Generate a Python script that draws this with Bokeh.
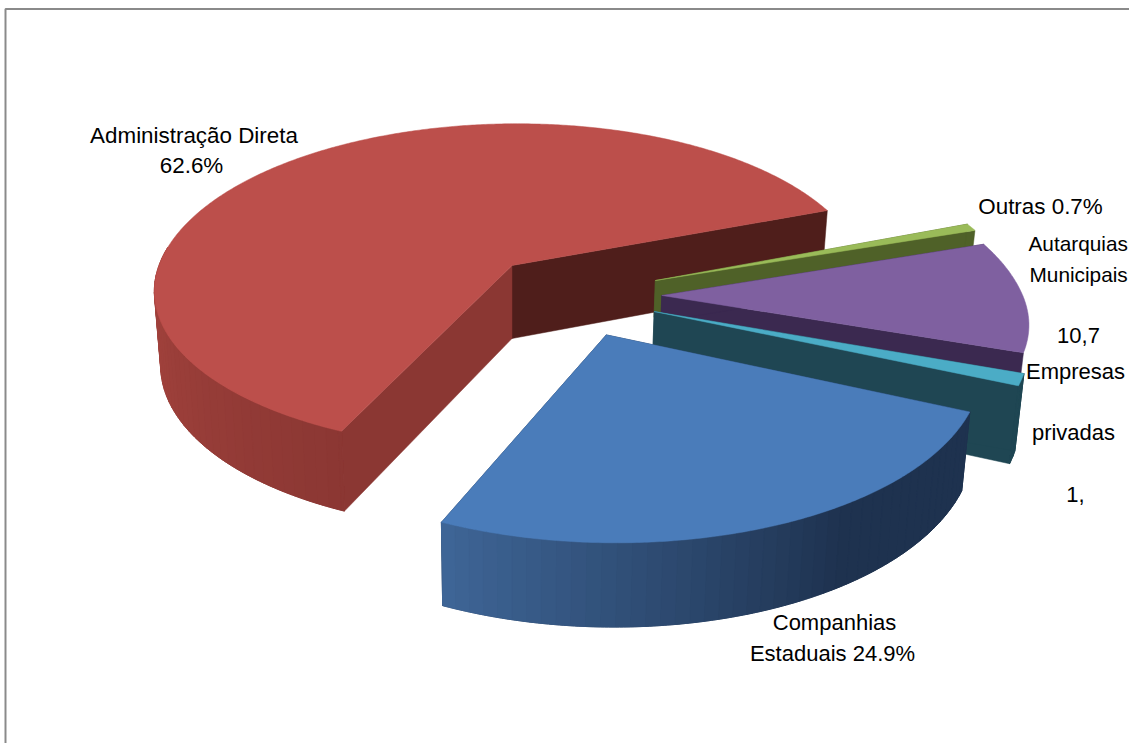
from math import cos, sin, radians
from bokeh.embed import file_html
from bokeh.models import Range1d
from bokeh.plotting import figure
from bokeh.resources import INLINE
from bokeh.core.properties import value

# Shares of each operator type, in drawing order (clockwise from the dark edge of the first slice)
categories = ["Administração Direta", "Outras", "Autarquias Municipais", "Empresas privadas", "Companhias Estaduais"]
shares = [62.6, 0.7, 10.7, 1.1, 24.9]

top_colors = ["#BC4F4B", "#9ABB59", "#7F60A0", "#4BACC6", "#4A7CBA"]
inner_colors = ["#4F1E1B", "#4F6128", "#3B2950", "#1F4653", "#1F3350"]
cut_colors = ["#8B3733", "#4F6128", "#3B2950", "#1F4653", "#3B618F"]
rim_from = ["#A8453F", "#4F6128", "#3B2950", "#1F4653", "#3E6596"]
rim_to = ["#8B3733", "#4F6128", "#3B2950", "#1F4653", "#1E324F"]

# Where each slice's tip sits on the pie's plane, its radius, and how far its near half is flattened
explode_u = [0.0, 0.402, 0.416, 0.391, 0.258]
explode_v = [0.0, -0.091, -0.179, -0.271, -0.400]
radius = [1.0, 1.0, 0.995, 1.0, 0.985]
near_squash = [0.965, 1.0, 0.92, 0.96, 0.97]
# Slices whose outer wall can be seen, and how much of the cut faces' height is exposed
has_wall = [True, False, False, True, True]
face_height = [1.0, 0.5, 0.35, 1.0, 1.0]

# Camera of the pie: tip of the main slice on screen, scales, perspective strength, skew, thickness
X0, Y0, SX, SY, PERSP, SKEW, DEPTH = 511.5, 265.0, 353.0, 163.0, 0.15, 6.0, 73.0
START_DEG = 20.8  # the angle where the first slice ends, going clockwise


def project(u, v, z=0.0):
    w = 1 + PERSP * v
    shrink = w * (1 + 0.018 * z)
    return X0 + (SX * u + SKEW * v) / shrink, Y0 - SY * v / shrink + DEPTH * z / w ** 0.88


def mix(a, b, t):
    ca = [int(a[i:i + 2], 16) for i in (1, 3, 5)]
    cb = [int(b[i:i + 2], 16) for i in (1, 3, 5)]
    return "#%02x%02x%02x" % tuple(round(x + (y - x) * t) for x, y in zip(ca, cb))


p = figure(width=1129, height=743, x_range=Range1d(0, 1129), y_range=Range1d(743, 0),
           output_backend="svg", toolbar_location=None, min_border=0,
           background_fill_color="white", border_fill_color="white", outline_line_color=None)
p.axis.visible = False
p.grid.visible = False

# Chart frame: the right and bottom edges run off the page
p.line([5, 5, 1135], [750, 8.5, 8.5], line_color="#8a8a8a", line_width=2)

total = sum(shares)
angle = START_DEG
spans = []
for i, s in enumerate(shares):
    # The first slice runs counter-clockwise back from the start angle; the rest run clockwise from it
    if i == 0:
        spans.append((START_DEG, START_DEG + 360 * s / total))
    else:
        spans.append((angle - 360 * s / total, angle))
        angle -= 360 * s / total

for i in range(len(shares)):
    a0, a1 = spans[i]
    u0, v0, r = explode_u[i], explode_v[i], radius[i]
    steps = max(6, int((a1 - a0) * 2))
    thetas = [a0 + (a1 - a0) * n / steps for n in range(steps + 1)]
    rim = []
    for t in thetas:
        dv = r * sin(radians(t))
        rim.append((u0 + r * cos(radians(t)), v0 + (dv * near_squash[i] if dv < 0 else dv)))

    def face(end, color):
        h = face_height[i]
        corners = [(u0, v0, 0), (end[0], end[1], 0), (end[0], end[1], h), (u0, v0, h)]
        pts = [project(*c) for c in corners]
        p.patch([q[0] for q in pts], [q[1] for q in pts], fill_color=color, line_color=color, line_width=0.5)

    # The two cut faces, the darker rear one first
    face(rim[0], inner_colors[i])
    face(rim[-1], cut_colors[i] if i == 0 else inner_colors[i])

    # Outer wall on the part facing the viewer: a solid base, then shaded bands
    front = [n for n in range(steps) if sin(radians(thetas[n])) < 0.12] if has_wall[i] else []
    if front:
        band = 4
        base = [project(*rim[n]) for n in front] + [project(*rim[front[-1] + 1])]
        base += [project(*rim[n], 1) for n in [front[-1] + 1] + front[::-1]]
        p.patch([q[0] for q in base], [q[1] for q in base], fill_color=rim_to[i], line_color=rim_to[i], line_width=0.5)
        for pos in range(0, len(front), band):
            chunk = front[pos:pos + band]
            upper = [rim[n] for n in chunk] + [rim[chunk[-1] + 1]]
            pts = [project(*q) for q in upper] + [project(*q, 1) for q in upper[::-1]]
            t = pos / max(1, len(front) - 1)
            c = mix(rim_from[i], rim_to[i], min(1.0, t * 1.6 if i == 4 else t))
            p.patch([q[0] for q in pts], [q[1] for q in pts], fill_color=c, line_color=c, line_width=1)

    # Top surface
    outline = [project(u0, v0)] + [project(u, v) for u, v in rim]
    p.patch([q[0] for q in outline], [q[1] for q in outline],
            fill_color=top_colors[i], line_color=top_colors[i], line_width=0.5)

# Data labels, line by line, as the chart wraps them
label_font = value("Liberation Sans")
label_lines = ["Administração Direta", "62.6%", "Outras 0.7%", "Autarquias", "Municipais", "10,7",
               "Empresas", "privadas", "1,", "Companhias", "Estaduais 24.9%"]
label_x = [193.5, 191, 1040, 1028, 1029, 1078, 1075, 1073, 1075, 834, 832]
label_y = [134.5, 164.5, 205.5, 242.5, 273.5, 334.5, 370.5, 431.5, 493.5, 621.5, 652.5]
label_align = ["center", "center", "center", "left", "left", "center", "center", "center", "center", "center", "center"]
label_size = ["22.4px"] * 3 + ["20.8px"] * 2 + ["22px"] * 6
for lx, ly, lt, la, ls in zip(label_x, label_y, label_lines, label_align, label_size):
    p.text([lx], [ly], text=[lt], text_font=label_font, text_font_size=ls, text_color="#000000",
           text_align=la, text_baseline="alphabetic")

open("out.html", "w").write(file_html(p, INLINE))
